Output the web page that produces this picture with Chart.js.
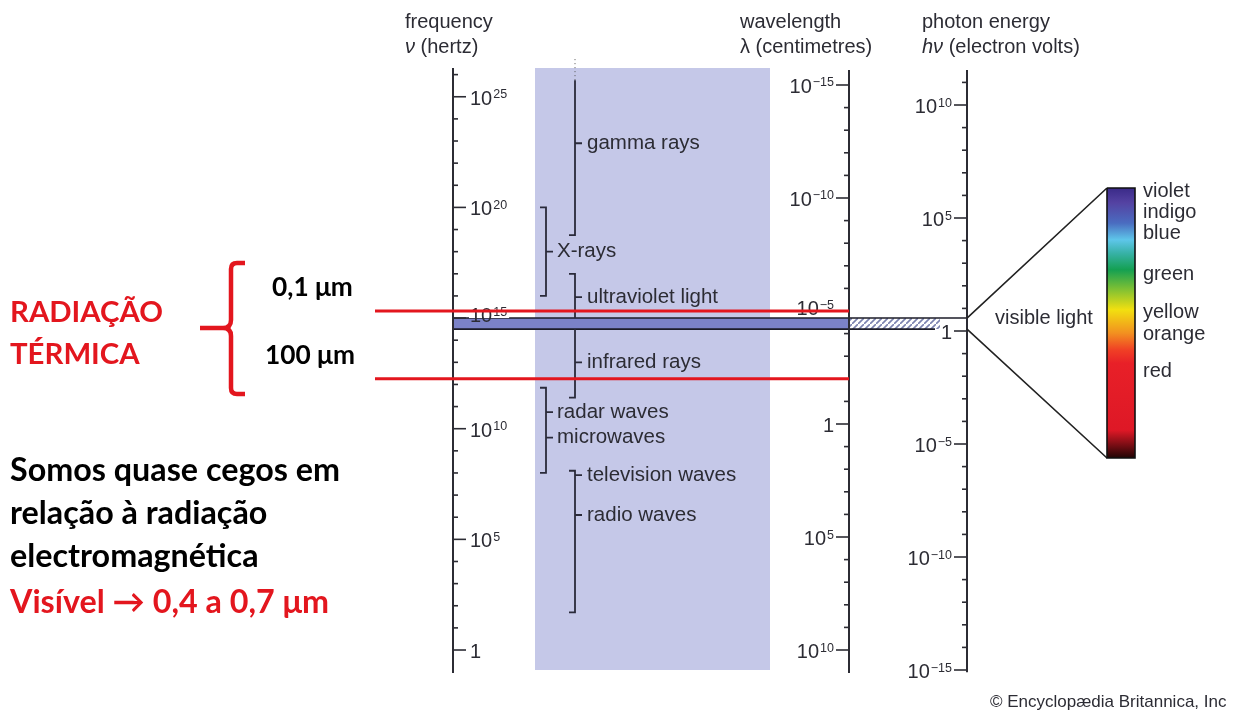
<!DOCTYPE html>
<html>
<head>
<meta charset="utf-8">
<script src="https://cdn.jsdelivr.net/npm/chart.js@4"></script>
<style>
  html, body { margin: 0; padding: 0; background: #fff; }
  #wrap { position: relative; width: 1243px; height: 711px; }
</style>
</head>
<body>
<div id="wrap"><canvas id="spectrum"></canvas></div>
<script>
// all band values are log10 of frequency in hertz
const bracketRanges = [
  [18.75, 25.75], // gamma rays
  [16.0, 20.0],   // X-rays
  [15.0, 17.0],   // ultraviolet
  [11.4, 14.5],   // infrared
  [8.0, 11.85],   // radar + microwaves
  [1.7, 8.1],     // television + radio
]
const bandLabels = ['gamma rays', 'X-rays', 'ultraviolet light', 'infrared rays',
  'radar waves', 'microwaves', 'television waves', 'radio waves']
const bandLabelFreq = [22.9, 18.0, 15.95, 13.0, 10.75, 9.6, 7.9, 6.1]
const bandLabelBracket = [0, 1, 2, 3, 4, 4, 5, 5]
const gammaDotted = [25.75, 26.75]

const visibleFreq = [14.5, 15.0]
const panelFreq = [-0.9, 26.3]

// axis tick labels (exponents of ten)
const freqLabels = [25, 20, 15, 10, 5, 0]
const waveLabels = [-15, -10, -5, 0, 5, 10]
const energyLabels = [10, 5, 0, -5, -10, -15]
const freqTickRange = [0, 26]
const waveTickRange = [-15, 10]
const energyTickRange = [-15, 11]

// thermal radiation limits, log10 of wavelength in cm (0,1 µm and 100 µm)
const thermalWave = [-5, -2]
const thermalText = ['0,1 μm', '100 μm']

// visible spectrum inset, wavelength in nm
const spectrumNm = [380, 400, 428, 451, 469, 492, 520, 547, 579, 602, 620, 712, 750]
const spectrumColors = ['#3a2a88', '#5442a2', '#4a6cc0', '#5ec6ea', '#38b2a8', '#14a052',
  '#84c232', '#f2e010', '#f29020', '#f04025', '#e82028', '#de1826', '#200404']
const colourNames = ['violet', 'indigo', 'blue', 'green', 'yellow', 'orange', 'red']
const colourNm = [385, 414, 442, 499, 551, 581, 632]

// layout (horizontal positions in px)
const L = {
  freqAxis: 453, waveAxis: 849, energyAxis: 967,
  panelLeft: 535, panelRight: 770,
  outer: 546, inner: 575, hook: 6, tick: 7,
  hatchEnd: 940, topEdgeEnd: 967, bottomEdgeEnd: 935,
  barLeft: 1107, barRight: 1135, colourText: 1143,
  thermalStart: 375,
}
const bracketX = [L.inner, L.outer, L.inner, L.inner, L.outer, L.inner]
const bracketHooks = [[false, true], [true, true], [true, false], [false, true], [true, true], [true, true]]

const INK = '#2c2c34'
const RED = '#e3161e'
const FONT = '"Liberation Sans", Arial, sans-serif'
const SLIDE = 'Lato, "Open Sans", sans-serif'
const GAP = { x: NaN, y: NaN }

function hatchPattern() {
  const c = document.createElement('canvas')
  c.width = 6
  c.height = 6
  const g = c.getContext('2d')
  g.fillStyle = '#fff'
  g.fillRect(0, 0, 6, 6)
  g.strokeStyle = '#7c83b0'
  g.lineWidth = 1.6
  g.beginPath()
  g.moveTo(-1, 7)
  g.lineTo(7, -1)
  g.stroke()
  return g.createPattern(c, 'repeat')
}

function spectrumGradient(chart) {
  const s = chart.scales.yv
  if (!s || !chart.chartArea) return 'transparent'
  const first = spectrumNm[0]
  const last = spectrumNm[spectrumNm.length - 1]
  const g = chart.ctx.createLinearGradient(0, s.getPixelForValue(first), 0, s.getPixelForValue(last))
  spectrumNm.forEach((nm, i) => g.addColorStop((nm - first) / (last - first), spectrumColors[i]))
  return g
}

function bracketPoints() {
  const pts = []
  bracketRanges.forEach(([lo, hi], i) => {
    const x = bracketX[i]
    const [hookTop, hookBottom] = bracketHooks[i]
    if (hookTop) pts.push({ x: x - L.hook, y: hi })
    pts.push({ x, y: hi }, { x, y: lo })
    if (hookBottom) pts.push({ x: x - L.hook, y: lo })
    pts.push(GAP)
  })
  bandLabels.forEach((_, i) => {
    const x = bracketX[bandLabelBracket[i]]
    pts.push({ x, y: bandLabelFreq[i] }, { x: x + L.tick, y: bandLabelFreq[i] }, GAP)
  })
  return pts
}

function filled(label, x1, x2, lo, hi, yAxisID, color, order) {
  return {
    label, yAxisID, order,
    data: [{ x: x1, y: hi }, { x: x2, y: hi }],
    fill: { value: lo },
    backgroundColor: color,
    borderColor: 'transparent',
    borderWidth: 0,
  }
}

const datasets = [
  filled('panel', L.panelLeft, L.panelRight, panelFreq[0], panelFreq[1], 'y', '#c5c8e8', 10),
  filled('visible band', L.freqAxis, L.waveAxis, visibleFreq[0], visibleFreq[1], 'y', '#7b82c8', 9),
  filled('hatch', L.waveAxis, L.hatchEnd, visibleFreq[0], visibleFreq[1], 'y', hatchPattern(), 9),
  {
    label: 'band outline', yAxisID: 'y', order: 8,
    data: [{ x: L.freqAxis, y: visibleFreq[1] }, { x: L.topEdgeEnd, y: visibleFreq[1] }, GAP,
      { x: L.freqAxis, y: visibleFreq[0] }, { x: L.bottomEdgeEnd, y: visibleFreq[0] }],
    borderColor: '#1c1c28', borderWidth: 1.6, fill: false,
  },
  {
    label: 'brackets', yAxisID: 'y', order: 6,
    data: bracketPoints(),
    borderColor: '#2a2a3a', borderWidth: 1.8, fill: false,
  },
  {
    label: 'gamma dotted', yAxisID: 'y', order: 6,
    data: gammaDotted.map(v => ({ x: L.inner, y: v })),
    borderColor: '#555', borderWidth: 1, borderDash: [1, 3], fill: false,
  },
  {
    label: 'spectrum', yAxisID: 'yv', order: 5,
    data: [{ x: L.barLeft, y: spectrumNm[0] }, { x: L.barRight, y: spectrumNm[0] }],
    fill: { value: spectrumNm[spectrumNm.length - 1] },
    backgroundColor: c => spectrumGradient(c.chart),
    borderColor: 'transparent', borderWidth: 0,
  },
  {
    label: 'spectrum outline', yAxisID: 'yv', order: 4,
    data: [{ x: L.barLeft, y: spectrumNm[0] }, { x: L.barRight, y: spectrumNm[0] },
      { x: L.barRight, y: spectrumNm[spectrumNm.length - 1] }, { x: L.barLeft, y: spectrumNm[spectrumNm.length - 1] },
      { x: L.barLeft, y: spectrumNm[0] }],
    borderColor: '#111', borderWidth: 1.6, fill: false,
  },
  {
    label: 'thermal limits', yAxisID: 'yw', order: 1,
    data: [{ x: L.thermalStart, y: thermalWave[0] }, { x: L.waveAxis, y: thermalWave[0] }, GAP,
      { x: L.thermalStart, y: thermalWave[1] }, { x: L.waveAxis, y: thermalWave[1] }],
    borderColor: RED, borderWidth: 3, fill: false,
  },
]

function powerWidth(ctx, exp) {
  const base = exp === 0 ? '1' : '10'
  const sup = exp === 0 ? '' : String(exp).replace('-', '−')
  ctx.font = `20px ${FONT}`
  const bw = ctx.measureText(base).width
  ctx.font = `12.5px ${FONT}`
  const sw = sup ? ctx.measureText(sup).width + 1 : 0
  return { base, sup, bw, sw }
}

function drawPower(ctx, exp, x, y, align) {
  const { base, sup, bw, sw } = powerWidth(ctx, exp)
  const left = align === 'left' ? x : x - bw - sw
  ctx.textAlign = 'left'
  ctx.textBaseline = 'alphabetic'
  ctx.font = `20px ${FONT}`
  ctx.fillText(base, left, y + 8)
  if (sup) {
    ctx.font = `12.5px ${FONT}`
    ctx.fillText(sup, left + bw + 1, y + 1.5)
  }
}

// labels that sit on the visible band are lifted a little, as in the original
function drawLogAxis(ctx, scale, x, side, tickRange, labels, lineRange, lifted) {
  ctx.strokeStyle = INK
  ctx.lineWidth = 2
  ctx.beginPath()
  ctx.moveTo(x, lineRange[0])
  ctx.lineTo(x, lineRange[1])
  ctx.stroke()
  ctx.lineWidth = 1.6
  for (let e = tickRange[0]; e <= tickRange[1]; e++) {
    const y = scale.getPixelForValue(e)
    const len = labels.includes(e) ? 13 : 5
    ctx.beginPath()
    ctx.moveTo(x, y)
    ctx.lineTo(x + side * len, y)
    ctx.stroke()
  }
  labels.forEach(e => {
    let y = scale.getPixelForValue(e)
    if (e === lifted) {
      y -= 4
      if (side > 0) {
        const { bw, sw } = powerWidth(ctx, e)
        ctx.fillStyle = '#fff'
        ctx.fillRect(x + 16, y - 9, bw + sw + 3, 13)
      }
    }
    ctx.fillStyle = INK
    if (side > 0) drawPower(ctx, e, x + 17, y, 'left')
    else drawPower(ctx, e, x - 15, y, 'right')
  })
}

function italicLead(ctx, lead, rest, x, y) {
  ctx.textAlign = 'left'
  ctx.font = `italic 20px ${FONT}`
  ctx.fillText(lead, x, y)
  const w = ctx.measureText(lead).width
  ctx.font = `20px ${FONT}`
  ctx.fillText(rest, x + w, y)
}

const diagramPlugin = {
  id: 'diagram',
  afterDatasetDraw(chart, args) {
    if (chart.data.datasets[args.index].label !== 'band outline') return
    const { ctx, scales } = chart
    const top = 68
    const bottom = 673
    ctx.save()
    drawLogAxis(ctx, scales.y, L.freqAxis, 1, freqTickRange, freqLabels, [top, bottom], 15)
    drawLogAxis(ctx, scales.yw, L.waveAxis, -1, waveTickRange, waveLabels, [top + 2, bottom], -5)
    drawLogAxis(ctx, scales.ye, L.energyAxis, -1, energyTickRange, energyLabels,
      [top + 2, scales.ye.getPixelForValue(-15.1)], null)

    // headers
    ctx.fillStyle = INK
    ctx.textAlign = 'left'
    ctx.textBaseline = 'alphabetic'
    ctx.font = `20px ${FONT}`
    ctx.fillText('frequency', 405, 28)
    italicLead(ctx, 'ν', ' (hertz)', 405, 53)
    ctx.font = `20px ${FONT}`
    ctx.fillText('wavelength', 740, 28)
    ctx.fillText('λ (centimetres)', 740, 53)
    ctx.fillText('photon energy', 922, 28)
    italicLead(ctx, 'hν', ' (electron volts)', 922, 53)

    // fan towards the visible spectrum inset
    ctx.strokeStyle = '#222'
    ctx.lineWidth = 1.6
    ctx.beginPath()
    ctx.moveTo(L.energyAxis, scales.y.getPixelForValue(visibleFreq[1]))
    ctx.lineTo(L.barLeft, scales.yv.getPixelForValue(spectrumNm[0]))
    ctx.moveTo(L.energyAxis, scales.y.getPixelForValue(visibleFreq[0]))
    ctx.lineTo(L.barLeft, scales.yv.getPixelForValue(spectrumNm[spectrumNm.length - 1]))
    ctx.stroke()

    ctx.fillStyle = INK
    ctx.font = `20px ${FONT}`
    ctx.textBaseline = 'middle'
    ctx.fillText('visible light', 995, scales.y.getPixelForValue((visibleFreq[0] + visibleFreq[1]) / 2) - 5)
    colourNames.forEach((name, i) => {
      ctx.fillText(name, L.colourText, scales.yv.getPixelForValue(colourNm[i]))
    })

    // band names
    ctx.font = `20.5px ${FONT}`
    bandLabels.forEach((name, i) => {
      const x = bracketX[bandLabelBracket[i]] + (bandLabelBracket[i] === 1 || bandLabelBracket[i] === 4 ? 11 : 12)
      ctx.fillText(name, x, scales.y.getPixelForValue(bandLabelFreq[i]))
    })

    ctx.textBaseline = 'alphabetic'
    ctx.font = `17px ${FONT}`
    ctx.fillText('© Encyclopædia Britannica, Inc', 990, 707)
    ctx.restore()
  },
  afterDraw(chart) {
    const { ctx } = chart
    ctx.save()
    const fit = (text, width, weight = 'bold') => {
      ctx.font = `${weight} 100px ${SLIDE}`
      return 100 * width / ctx.measureText(text).width
    }
    ctx.textAlign = 'left'
    ctx.textBaseline = 'alphabetic'

    const bigSize = fit('RADIAÇÃO', 153)
    ctx.font = `bold ${bigSize}px ${SLIDE}`
    ctx.fillStyle = RED
    ctx.fillText('RADIAÇÃO', 10, 322)
    ctx.fillText('TÉRMICA', 10, 364)

    const smallSize = fit('100 μm', 90)
    ctx.font = `bold ${smallSize}px ${SLIDE}`
    ctx.fillStyle = '#000'
    ctx.fillText(thermalText[0], 272, 296)
    ctx.fillText(thermalText[1], 265, 364)

    // brace
    ctx.strokeStyle = RED
    ctx.lineWidth = 4.5
    ctx.lineCap = 'butt'
    ctx.beginPath()
    ctx.moveTo(245, 263)
    ctx.lineTo(237, 263)
    ctx.quadraticCurveTo(231, 263, 231, 269)
    ctx.lineTo(231, 320)
    ctx.quadraticCurveTo(231, 328, 223, 328)
    ctx.lineTo(200, 328)
    ctx.moveTo(223, 328)
    ctx.quadraticCurveTo(231, 328, 231, 336)
    ctx.lineTo(231, 388)
    ctx.quadraticCurveTo(231, 394, 237, 394)
    ctx.lineTo(245, 394)
    ctx.stroke()

    const bodySize = fit('Somos quase cegos em', 330)
    ctx.font = `bold ${bodySize}px ${SLIDE}`
    ctx.fillStyle = '#000'
    ctx.fillText('Somos quase cegos em', 10, 481)
    ctx.fillText('relação à radiação', 10, 524)
    ctx.fillText('electromagnética', 10, 567)
    ctx.fillStyle = RED
    ctx.fillText('Visível → 0,4 a 0,7 μm', 10, 613)
    ctx.restore()
  },
}

new Chart(document.getElementById('spectrum'), {
  type: 'line',
  data: { datasets },
  options: {
    responsive: true,
    maintainAspectRatio: false,
    animation: false,
    events: [],
    layout: { padding: 0 },
    elements: { point: { radius: 0 }, line: { tension: 0 } },
    plugins: {
      legend: { display: false },
      tooltip: { enabled: false },
    },
    scales: {
      x: { type: 'linear', min: 0, max: 1243, display: false },
      y: { type: 'linear', min: -2.756, max: 29.372, display: false },
      yw: { type: 'linear', axis: 'y', reverse: true, min: -18.761, max: 12.699, display: false },
      ye: { type: 'linear', axis: 'y', min: -16.814, max: 14.646, display: false },
      yv: { type: 'linear', axis: 'y', reverse: true, min: 122.4, max: 1096.7, display: false },
    },
  },
  plugins: [diagramPlugin],
})
</script>
</body>
</html>
